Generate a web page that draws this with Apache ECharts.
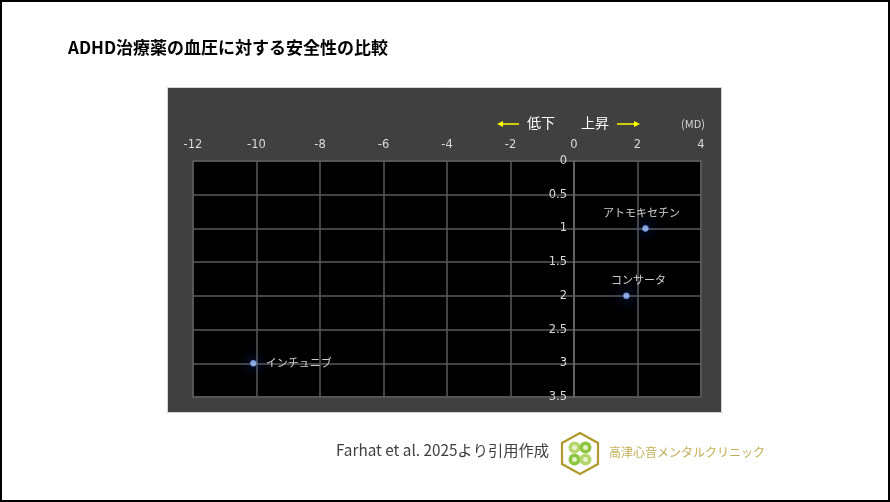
<!DOCTYPE html>
<html>
<head>
<meta charset="utf-8">
<script src="https://cdn.jsdelivr.net/npm/echarts@6/dist/echarts.min.js"></script>
<style>
html,body{margin:0;padding:0;background:#fff;}
#chart{width:890px;height:502px;}
</style>
</head>
<body>
<div id="chart"></div>
<script>
const titleText = 'ADHD治療薬の血圧に対する安全性の比較';
const drugs = ['アトモキセチン', 'コンサータ', 'インチュニブ'];
const mdValues = [2.25, 1.65, -10.1];
const rowValues = [1, 2, 3];
const xRange = [-12, 4];
const yRange = [0, 3.5];
const sourceText = 'Farhat et al. 2025より引用作成';
const clinicText = '高津心音メンタルクリニック';

const labelStyles = [
  {position: 'top', offset: [-4, -2]},
  {position: 'top', offset: [12, -2]},
  {position: 'right', offset: [4, 0]}
];

const chart = echarts.init(document.getElementById('chart'), null, {renderer: 'canvas'});
const jp = '"Noto Sans CJK JP", "Noto Sans", sans-serif';

const pts = drugs.map((d, i) => ({
  name: d,
  value: [mdValues[i], rowValues[i]],
  label: Object.assign({show: true, formatter: d, color: '#ffffff', fontSize: 11, fontFamily: jp}, labelStyles[i])
}));

const gridLeft = 193, gridWidth = 508;
// place the y axis at x = 0 of the value axis
const yAxisOffset = -gridWidth * (0 - xRange[0]) / (xRange[1] - xRange[0]);

const option = {
  backgroundColor: '#ffffff',
  animation: false,
  graphic: [
    {type: 'rect', shape: {x: 1, y: 1, width: 888, height: 500}, style: {fill: 'none', stroke: '#000', lineWidth: 2}, z: 100},
    {type: 'rect', shape: {x: 167.5, y: 87.5, width: 554, height: 325}, style: {fill: '#404040', stroke: '#d4d4d4', lineWidth: 1}, z: -10},
    {type: 'text', left: 68, top: 39, style: {text: titleText, fill: '#000', font: 'bold 17px ' + jp}},
    // arrows and direction labels
    {type: 'line', shape: {x1: 519, y1: 124, x2: 500, y2: 124}, style: {stroke: '#ffff00', lineWidth: 1.5}},
    {type: 'polygon', shape: {points: [[497, 124], [503, 121], [503, 127]]}, style: {fill: '#ffff00'}},
    {type: 'text', left: 527, top: 116, style: {text: '低下', fill: '#ffffff', font: '14px ' + jp}},
    {type: 'text', left: 581, top: 116, style: {text: '上昇', fill: '#ffffff', font: '14px ' + jp}},
    {type: 'line', shape: {x1: 617, y1: 124, x2: 637, y2: 124}, style: {stroke: '#ffff00', lineWidth: 1.5}},
    {type: 'polygon', shape: {points: [[640, 124], [634, 121], [634, 127]]}, style: {fill: '#ffff00'}},
    {type: 'text', left: 681, top: 118, style: {text: '(MD)', fill: '#d9d9d9', font: '11px ' + jp}},
    // footer
    {type: 'text', left: 336, top: 443, style: {text: sourceText, fill: '#404040', font: '15.3px ' + jp}},
    {type: 'polygon', shape: {points: [[580, 433], [598, 443], [598, 464], [580, 474], [562, 464], [562, 443]]}, style: {fill: '#fff', stroke: '#b09a2c', lineWidth: 2.2}},
    {type: 'circle', shape: {cx: 574.5, cy: 447.5, r: 6}, style: {fill: '#b5d66a'}},
    {type: 'circle', shape: {cx: 585.5, cy: 447.5, r: 6}, style: {fill: '#8cc63f'}},
    {type: 'circle', shape: {cx: 574.5, cy: 459.5, r: 6}, style: {fill: '#8cc63f'}},
    {type: 'circle', shape: {cx: 585.5, cy: 459.5, r: 6}, style: {fill: '#b5d66a'}},
    {type: 'circle', shape: {cx: 574.5, cy: 447.5, r: 2.5}, style: {fill: '#e6f2c8'}},
    {type: 'circle', shape: {cx: 585.5, cy: 447.5, r: 2.5}, style: {fill: '#e6f2c8'}},
    {type: 'circle', shape: {cx: 574.5, cy: 459.5, r: 2.5}, style: {fill: '#e6f2c8'}},
    {type: 'circle', shape: {cx: 585.5, cy: 459.5, r: 2.5}, style: {fill: '#e6f2c8'}},
    {type: 'text', left: 609, top: 446, style: {text: clinicText, fill: '#c2ae55', font: '12px ' + jp}}
  ],
  grid: {
    left: gridLeft, top: 161, width: gridWidth, height: 236,
    show: true, backgroundColor: '#000000', borderColor: '#5a5a5a', borderWidth: 1.5
  },
  xAxis: {
    type: 'value', position: 'top', min: xRange[0], max: xRange[1], interval: 2,
    axisLine: {show: false, onZero: false}, axisTick: {show: false},
    axisLabel: {color: '#d9d9d9', fontSize: 11.5, margin: 10, fontFamily: '"DejaVu Sans", sans-serif'},
    splitLine: {show: true, lineStyle: {color: '#5a5a5a', width: 1.5}}
  },
  yAxis: {
    type: 'value', inverse: true, min: yRange[0], max: yRange[1], interval: 0.5,
    position: 'left', offset: yAxisOffset,
    axisLine: {show: true, onZero: false, lineStyle: {color: '#6a6a6a', width: 1.5}},
    axisTick: {show: false},
    axisLabel: {color: '#d9d9d9', fontSize: 11.5, margin: 7, fontFamily: '"DejaVu Sans", sans-serif'},
    splitLine: {show: true, lineStyle: {color: '#5a5a5a', width: 1.5}}
  },
  series: [{
    type: 'scatter',
    data: pts,
    symbolSize: 6,
    itemStyle: {color: '#b3ceff', borderColor: '#5d8eff', borderWidth: 0.8, shadowBlur: 14, shadowColor: '#2f6bff'},
    z: 5
  }]
};
chart.setOption(option);
</script>
</body>
</html>
